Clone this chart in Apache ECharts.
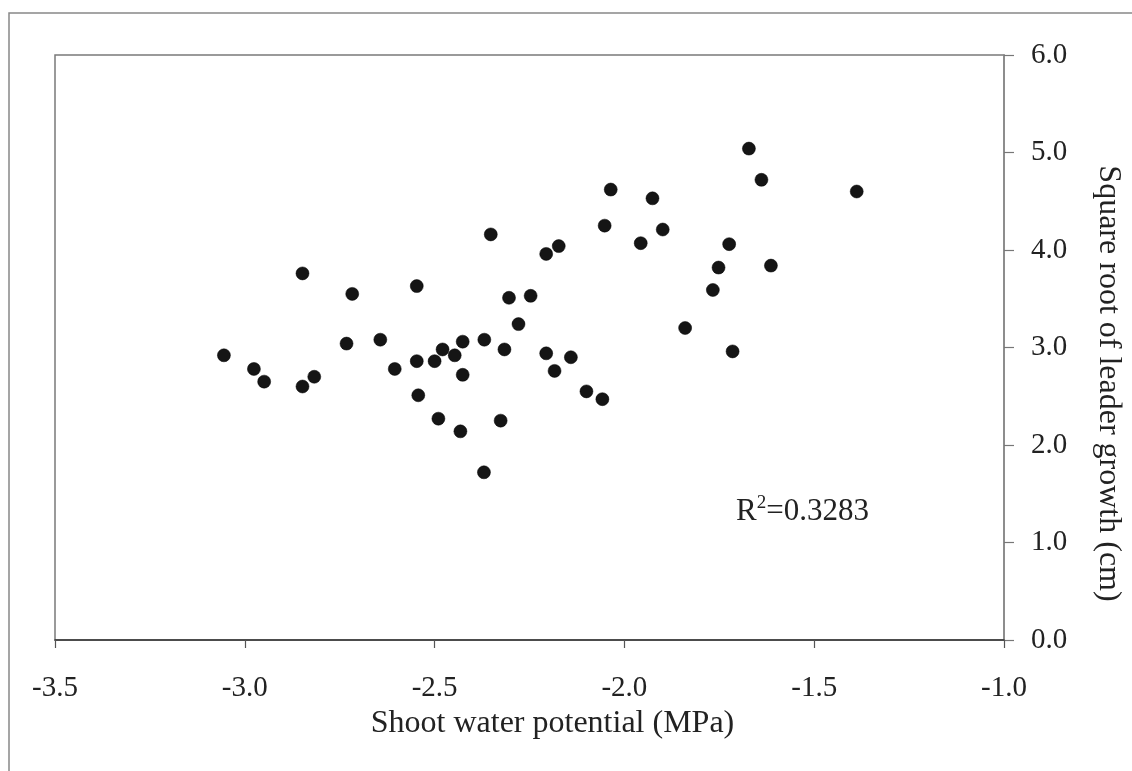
<!DOCTYPE html>
<html>
<head>
<meta charset="utf-8">
<script src="https://cdn.jsdelivr.net/npm/echarts@6/dist/echarts.min.js"></script>
<style>
html,body{margin:0;padding:0;background:#fff;}
#chart{width:1132px;height:771px;}
</style>
</head>
<body>
<div id="chart"></div>
<script>
// Shoot water potential (MPa)
var waterPotential = [
  -3.055, -2.976, -2.949, -2.848, -2.848, -2.817, -2.717, -2.732, -2.643, -2.605,
  -2.547, -2.547, -2.543, -2.500, -2.479, -2.490, -2.447, -2.426, -2.426, -2.432,
  -2.369, -2.370, -2.352, -2.316, -2.304, -2.247, -2.279, -2.326, -2.206, -2.206,
  -2.184, -2.173, -2.141, -2.100, -2.058, -2.052, -2.036, -1.957, -1.926, -1.899,
  -1.840, -1.767, -1.752, -1.724, -1.715, -1.672, -1.639, -1.614, -1.388
];
// Square root of leader growth (cm)
var sqrtGrowth = [
  2.92, 2.78, 2.65, 3.76, 2.60, 2.70, 3.55, 3.04, 3.08, 2.78,
  3.63, 2.86, 2.51, 2.86, 2.98, 2.27, 2.92, 3.06, 2.72, 2.14,
  3.08, 1.72, 4.16, 2.98, 3.51, 3.53, 3.24, 2.25, 3.96, 2.94,
  2.76, 4.04, 2.90, 2.55, 2.47, 4.25, 4.62, 4.07, 4.53, 4.21,
  3.20, 3.59, 3.82, 4.06, 2.96, 5.04, 4.72, 3.84, 4.60
];
var xTicks = [-3.5, -3.0, -2.5, -2.0, -1.5, -1.0];
var yTicks = [0, 1, 2, 3, 4, 5, 6];
var xTitle = 'Shoot water potential (MPa)';
var yTitle = 'Square root of leader growth (cm)';
var r2Label = '0.3283';

var points = waterPotential.map(function (x, i) { return [x, sqrtGrowth[i]]; });
var font = '"Liberation Serif", "Times New Roman", serif';

var chart = echarts.init(document.getElementById('chart'));
chart.setOption({
  backgroundColor: '#ffffff',
  animation: false,
  grid: {
    left: 55, right: 127, top: 55, bottom: 131,
    show: true, borderColor: '#7a7a7a', borderWidth: 1.5, backgroundColor: 'transparent'
  },
  xAxis: {
    type: 'value',
    min: xTicks[0], max: xTicks[xTicks.length - 1], interval: 0.5,
    name: xTitle, nameLocation: 'middle', nameGap: 60,
    nameTextStyle: { fontFamily: font, fontSize: 32, color: '#222', padding: [0, 0, 0, 46] },
    axisLine: { onZero: false, lineStyle: { color: '#333', width: 1.5 } },
    axisTick: { show: true, inside: false, length: 8, lineStyle: { color: '#555', width: 1.2 } },
    axisLabel: {
      margin: 34, fontFamily: font, fontSize: 29, color: '#222',
      formatter: function (v) { return v.toFixed(1); }
    },
    splitLine: { show: false }
  },
  yAxis: {
    type: 'value', position: 'right',
    min: yTicks[0], max: yTicks[yTicks.length - 1], interval: 1,
    name: yTitle, nameLocation: 'middle', nameGap: 88, nameRotate: -90,
    nameTextStyle: { fontFamily: font, fontSize: 32, color: '#222', padding: [0, 0, 0, 72] },
    axisLine: { show: true, onZero: false, lineStyle: { color: '#888', width: 1.5 } },
    axisTick: { show: true, inside: false, length: 10, lineStyle: { color: '#777', width: 1.2 } },
    axisLabel: {
      margin: 27, fontFamily: font, fontSize: 29, color: '#222',
      formatter: function (v) { return v.toFixed(1); }
    },
    splitLine: { show: false }
  },
  graphic: [
    {
      type: 'rect', z: -1, silent: true,
      shape: { x: 9, y: 13, width: 1300, height: 900 },
      style: { fill: 'none', stroke: '#888', lineWidth: 1.5 }
    },
    {
      type: 'text', left: 736, top: 494, silent: true,
      style: {
        text: '{r|R}{s|2}{r|=' + r2Label + '}',
        rich: {
          r: { fontFamily: font, fontSize: 31, fill: '#222', verticalAlign: 'bottom' },
          s: { fontFamily: font, fontSize: 19, fill: '#222', verticalAlign: 'top', padding: [0, 0, 14, 0] }
        }
      }
    }
  ],
  series: [{
    type: 'scatter',
    data: points,
    symbol: 'circle',
    symbolSize: 13,
    itemStyle: { color: '#151515', opacity: 1, borderColor: '#000', borderWidth: 0.5 }
  }]
});
</script>
</body>
</html>
